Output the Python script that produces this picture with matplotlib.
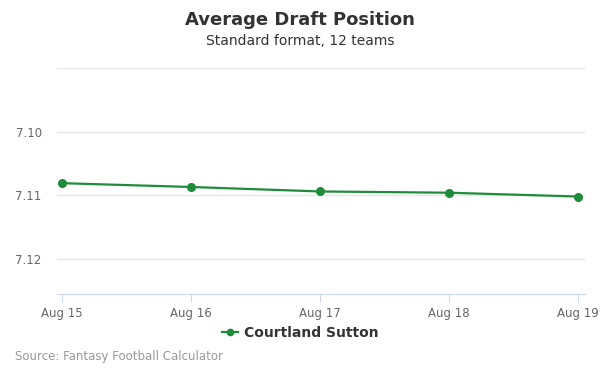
import matplotlib.pyplot as plt
from matplotlib.lines import Line2D

dates = ["Aug 15", "Aug 16", "Aug 17", "Aug 18", "Aug 19"]
adp = [7.1081, 7.1087, 7.1094, 7.1096, 7.1102]
y_ticks = [7.09, 7.10, 7.11, 7.12]
y_labels = ["", "7.10", "7.11", "7.12"]

green = "#1e8c3a"

fig = plt.figure(figsize=(6, 3.75), dpi=100)
ax = fig.add_axes([0.095, 0.216, 0.88, 0.603])

x = list(range(len(dates)))
ax.plot(x, adp, color=green, linewidth=1.6, marker="o", markersize=5.5, zorder=3)

ax.set_xlim(-0.039, 4.054)
ax.set_ylim(7.1255, 7.09)  # inverted axis
ax.set_yticks(y_ticks)
ax.set_yticklabels(y_labels)
ax.set_xticks(x)
ax.set_xticklabels(dates)

ax.grid(axis="y", color="#e6e6e6", linewidth=1)
ax.set_axisbelow(True)
for side in ["top", "right", "left"]:
    ax.spines[side].set_visible(False)
ax.spines["bottom"].set_color("#ccd6eb")
ax.tick_params(axis="y", length=0, labelsize=8.5, labelcolor="#666666", pad=11)
ax.tick_params(axis="x", length=6, color="#ccd6eb", labelsize=8.5, labelcolor="#666666", pad=3)

fig.text(0.5, 0.947, "Average Draft Position", ha="center", va="center",
         fontsize=13, fontweight="bold", color="#333333")
fig.text(0.5, 0.891, "Standard format, 12 teams", ha="center", va="center",
         fontsize=10, color="#333333")

handle = Line2D([], [], color=green, marker="o", markersize=4.5, linewidth=1.6)
fig.legend([handle], ["Courtland Sutton"], loc="center", bbox_to_anchor=(0.5, 0.113),
           frameon=False, prop={"weight": "bold", "size": 10}, handlelength=1.2,
           handletextpad=0.4, labelcolor="#333333")

fig.text(0.025, 0.05, "Source: Fantasy Football Calculator", ha="left", va="center",
         fontsize=8.5, color="#999999")

fig.savefig("out.png", dpi=100)
